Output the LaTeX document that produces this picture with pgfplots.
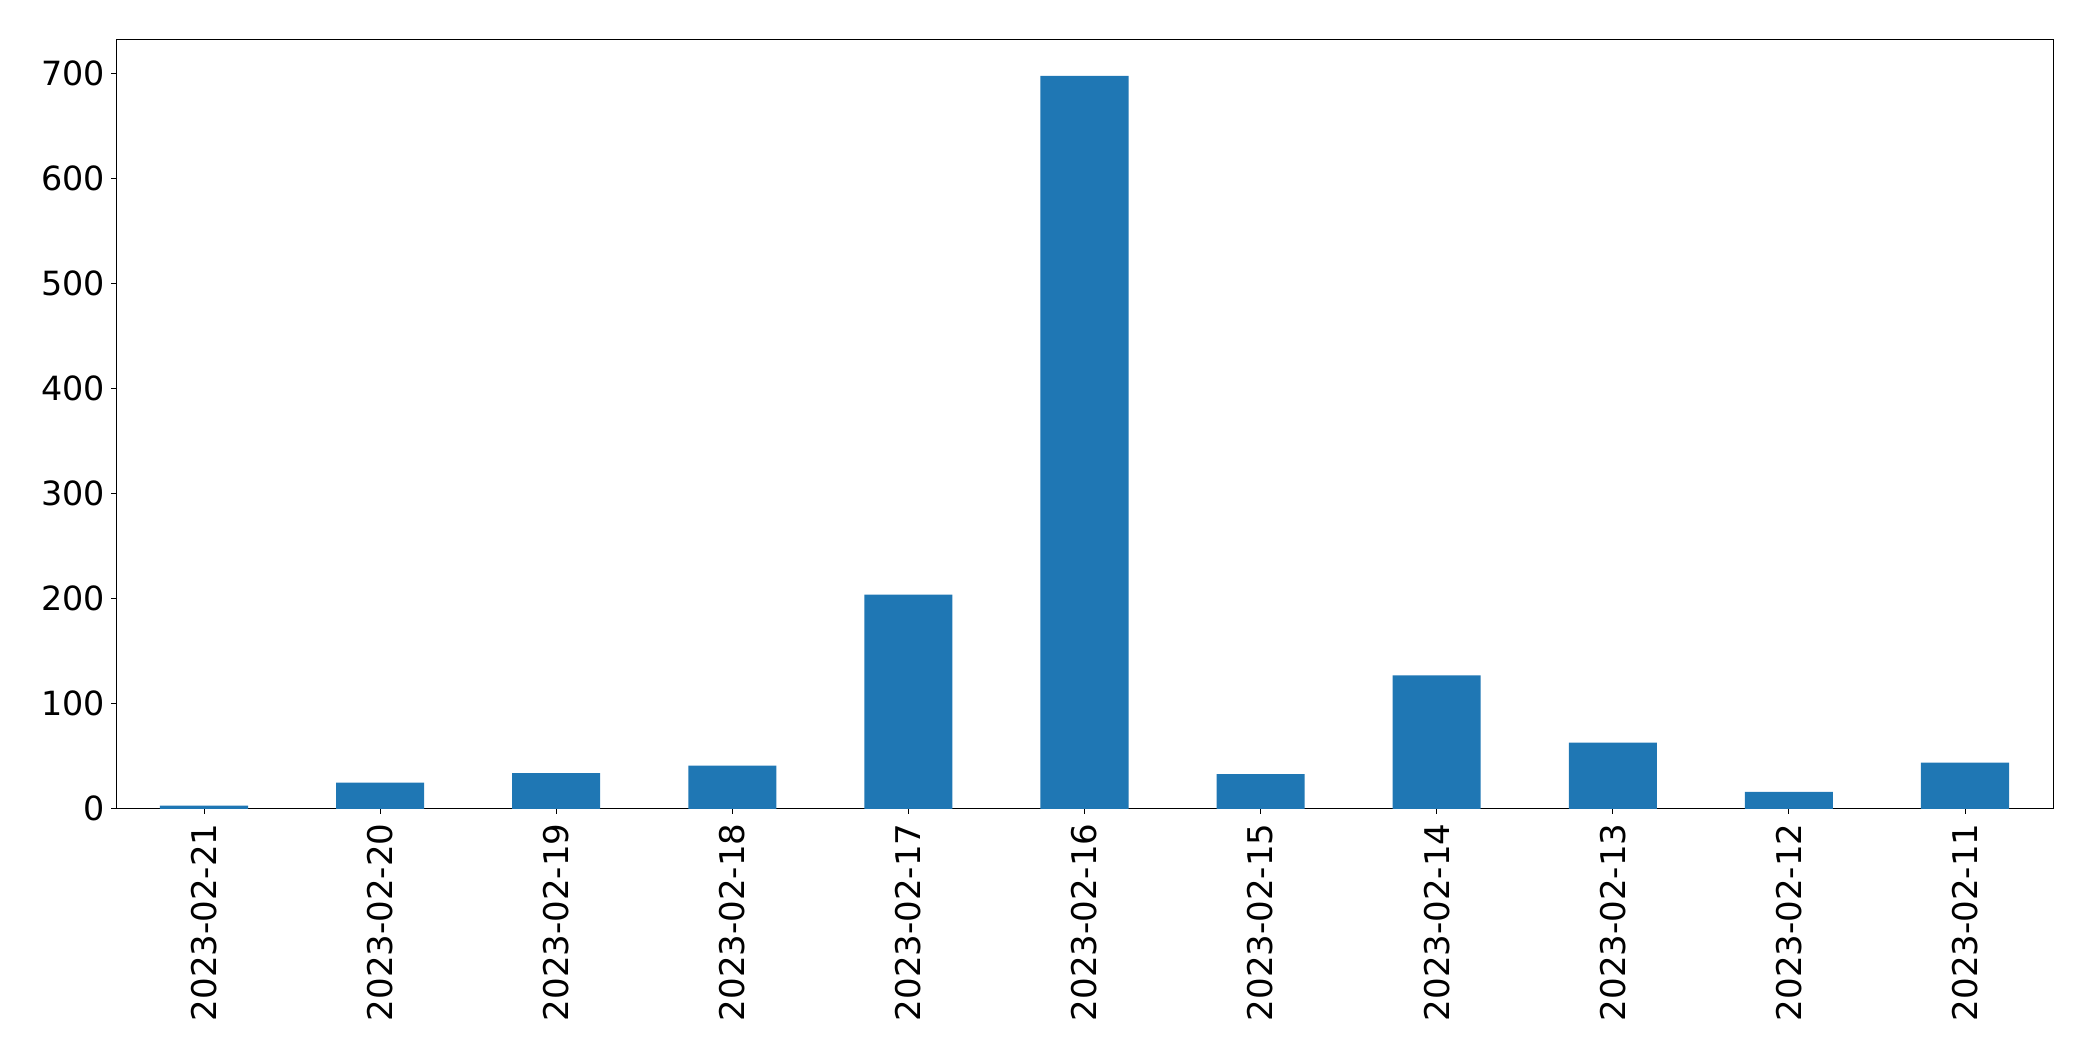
\documentclass[border=0pt]{standalone}
\usepackage{pgfplots}
\pgfplotsset{compat=1.18}
\usepackage{fontspec}
\setmainfont{DejaVu Sans}
\definecolor{mplblue}{HTML}{1F77B4}
\begin{document}
\begin{tikzpicture}
\begin{axis}[
  name=ax,
  scale only axis,
  width=1394.6pt, height=554pt,
  xmin=-0.5, xmax=10.5,
  ymin=0, ymax=732.9,
  xtick={0,...,10},
  xticklabels={2023-02-21,2023-02-20,2023-02-19,2023-02-18,2023-02-17,2023-02-16,2023-02-15,2023-02-14,2023-02-13,2023-02-12,2023-02-11},
  x tick label style={rotate=90, anchor=east, font=\fontsize{24.5}{28}\selectfont, xshift=-3.5pt},
  ytick={0,100,...,700},
  y tick label style={font=\fontsize{24}{28}\selectfont},
  /pgf/number format/assume math mode=true,
  tick align=outside,
  major tick length=3.5pt,
  tick style={black, line width=0.6pt},
  xtick pos=bottom, ytick pos=left,
  axis line style={black, line width=0.6pt},
  yticklabel style={xshift=-1pt},
  scaled y ticks=false,
]
\addplot[ybar, bar width=63.4pt, fill=mplblue, draw=none] coordinates {
  (0,3) (1,25) (2,34) (3,41) (4,204) (5,698) (6,33) (7,127) (8,63) (9,16) (10,44)
};
\end{axis}
\path (ax.south west) ++(-83.5pt,-181.4pt) coordinate (bbA);
\path (ax.north east) ++(28.8pt,28.3pt) coordinate (bbB);
\path (bbA) rectangle (bbB);
\end{tikzpicture}
\end{document}
